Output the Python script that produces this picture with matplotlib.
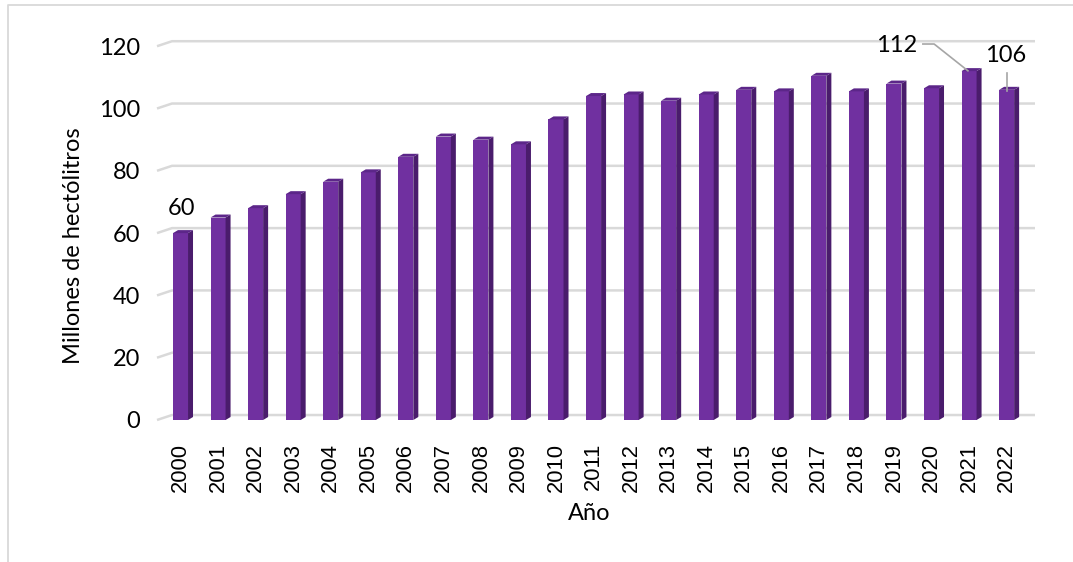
import matplotlib
matplotlib.use("Agg")
import matplotlib.pyplot as plt
from matplotlib.patches import Polygon
from matplotlib.lines import Line2D

# ── Data ──────────────────────────────────────────────────────────────────────
years = [str(y) for y in range(2000, 2023)]
values = [60, 65, 68, 72.5, 76.5, 79.5, 84.5, 91, 90, 88.5, 96.5,
          104, 104.5, 102.5, 104.5, 106, 105.5, 110.5, 105.5, 108, 106.5,
          112, 106]
y_ticks = [0, 20, 40, 60, 80, 100, 120]
labelled = {0: "60", 21: "112", 22: "106"}

# ── Style ─────────────────────────────────────────────────────────────────────
FRONT = "#7030A0"
SIDE = "#4A1C6C"
TOP = "#5C2689"
GRID = "#D9D9D9"
CAL = ["Lato", "DejaVu Sans"]
FS = 17

W, H = 1073, 562
fig = plt.figure(figsize=(W / 100, H / 100), dpi=100)
fig.patch.set_facecolor("white")

# axes placed in pixel terms: front floor at y=420, 3.115 px per unit
ax = fig.add_axes([157 / W, (H - 420) / H, 878 / W, 125 * 3.115 / H])
ax.set_xlim(-0.626, 22.756)
ax.set_ylim(0, 125)
for s in ax.spines.values():
    s.set_visible(False)

# back-wall gridlines with the little 3D floor step on the left
gdx, gdy = 0.4, 1.6
for v in y_ticks:
    ax.plot([-0.626, -0.626 + gdx, 22.756], [v, v + gdy, v + gdy],
            color=GRID, lw=1.8, zorder=1, clip_on=False, solid_capstyle="butt")

# 3D-ish columns: front face + side + top
bw, dx, dy = 0.4, 0.133, 0.96
for i, v in enumerate(values):
    ax.bar(i, v, width=bw, color=FRONT, zorder=3, linewidth=0)
    x1 = i + bw / 2
    ax.add_patch(Polygon([(x1, 0), (x1 + dx, dy), (x1 + dx, v + dy), (x1, v)],
                         closed=True, fc=SIDE, ec="none", zorder=3))
    x0 = i - bw / 2
    ax.add_patch(Polygon([(x0, v), (x0 + dx, v + dy), (x1 + dx, v + dy), (x1, v)],
                         closed=True, fc=TOP, ec="none", zorder=3))

# ticks
ax.set_yticks(y_ticks)
ax.set_yticklabels([str(t) for t in y_ticks], family=CAL, fontsize=FS)
ax.set_xticks(range(len(years)))
ax.set_xticklabels(years, rotation=90, family="Liberation Sans", fontsize=15.8)
ax.tick_params(axis="y", length=0, pad=12)
ax.tick_params(axis="x", length=0, pad=16.5)

# data labels
ax.text(0.03, 68, labelled[0], ha="center", va="center", family=CAL, fontsize=FS)
ax.text(19.07, 120.2, labelled[21], ha="center", va="center", family=CAL,
        fontsize=FS, clip_on=False)
ax.plot([19.77, 20.07, 20.97], [120.7, 120.7, 112.1], color="#A6A6A6", lw=1.2,
        zorder=4, clip_on=False)
ax.text(21.97, 117, labelled[22], ha="center", va="center", family=CAL,
        fontsize=FS, clip_on=False)
ax.plot([22.0, 22.0], [111.4, 105.6], color="#A6A6A6", lw=1.2, zorder=4)

# axis titles
fig.text(589 / W, 1 - 514 / H, "Año", ha="center", va="center",
         family=CAL, fontsize=FS)
fig.text(74 / W, 1 - 246 / H, "Millones de hectólitros", ha="center",
         va="center", rotation=90, family=CAL, fontsize=FS)

# chart frame (left + top visible)
fig.add_artist(Line2D([7.5 / W, 7.5 / W, 1.0], [0.0, 1 - 4.5 / H, 1 - 4.5 / H],
                      transform=fig.transFigure, color=GRID, lw=1.3))

fig.savefig("out.png", dpi=100)
